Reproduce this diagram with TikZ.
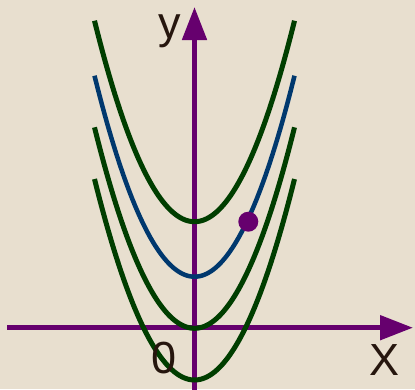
\documentclass[tikz,border=0pt]{standalone}
\usepackage{fontspec}
\setmainfont{Liberation Sans}
\usetikzlibrary{arrows.meta}
\definecolor{bg}{RGB}{232,223,207}
\definecolor{axiscol}{RGB}{102,0,110}
\definecolor{greencol}{RGB}{0,62,0}
\definecolor{bluecol}{RGB}{0,56,110}
\definecolor{txtcol}{RGB}{38,22,14}
\tikzset{
  axisline/.style={draw=axiscol, line width=5pt, -{Triangle[length=33pt,width=24pt]}},
  parab/.style={line width=5pt, draw=greencol},
  bluepar/.style={line width=4.5pt, draw=bluecol},
  lbl/.style={text=txtcol, font=\fontsize{45}{54}\selectfont, inner sep=0pt, anchor=base},
  dotnode/.style={circle, fill=axiscol, minimum size=20pt, inner sep=0pt}
}
\begin{document}
\begin{tikzpicture}[x=1pt,y=-1pt]
\fill[bg] (0,0) rectangle (415,389);
\useasboundingbox (0,0) rectangle (415,389);
\coordinate (xs) at (7,327.7);
\coordinate (xe) at (413,327.7);
\coordinate (ys) at (194.5,392);
\coordinate (ye) at (194.5,7);
\draw[axisline] (xs) -- (xe);
\draw[axisline] (ys) -- (ye);
\draw[parab] plot[domain=-100:100, samples=101, smooth] ({194.5+\x},{221.7-0.0201*\x*\x});
\draw[bluepar] plot[domain=-100:100, samples=101, smooth] ({194.5+\x},{276.7-0.0201*\x*\x});
\draw[parab] plot[domain=-100:100, samples=101, smooth] ({194.5+\x},{328.3-0.0201*\x*\x});
\draw[parab] plot[domain=-100:100, samples=101, smooth] ({194.5+\x},{380-0.0201*\x*\x});
\node[dotnode] (pt) at (248.3,221.7) {};
\node[lbl] (ylbl) at (170,38) {y};
\node[lbl] (olbl) at (164,373) {0};
\node[lbl] (xlbl) at (385,375) {X};
\end{tikzpicture}
\end{document}
